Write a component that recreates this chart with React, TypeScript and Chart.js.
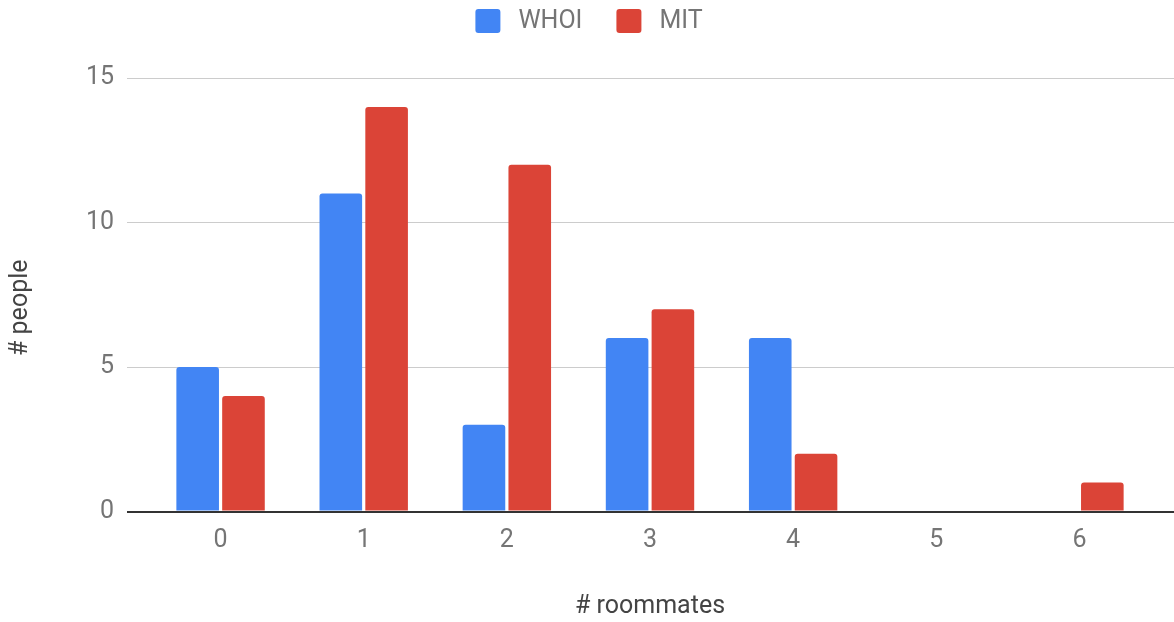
import React, { useEffect, useRef } from 'react';
import { Chart, registerables } from 'chart.js';

Chart.register(...registerables);

const categories = ['0', '1', '2', '3', '4', '5', '6'];
const whoiValues = [5, 11, 3, 6, 6, 0, 0];
const mitValues = [4, 14, 12, 7, 2, 0, 1];
const yTicks = [0, 5, 10, 15];
const seriesLabels = ['WHOI', 'MIT'];
const seriesColors = ['#4285F4', '#DB4437'];
const xTitle = '# roommates';
const yTitle = '# people';

const W = 1174;
const H = 622;

const gridColor = (c: any) => (c.tick && c.tick.value === 0 ? '#333333' : '#cccccc');
const gridWidth = (c: any) => (c.tick && c.tick.value === 0 ? 2 : 1);

const legendPlugin = {
  id: 'topLegend',
  afterDraw(chart: any) {
    const ctx = chart.ctx;
    const items = chart.data.datasets.map((d: any) => ({ label: d.label, color: d.backgroundColor }));
    ctx.save();
    ctx.font = '25px Roboto';
    const box = 25;
    const boxH = 24;
    const gapText = 18;
    const gapItem = 34;
    const widths = items.map((it: any) => box + gapText + ctx.measureText(it.label).width);
    const total = widths.reduce((a: number, b: number) => a + b, 0) + gapItem * (items.length - 1);
    let x = chart.width / 2 - total / 2 + 2;
    const yTop = 9;
    items.forEach((it: any, i: number) => {
      ctx.fillStyle = it.color;
      ctx.beginPath();
      (ctx as any).roundRect(x, yTop, box, boxH, 3);
      ctx.fill();
      ctx.fillStyle = '#757575';
      ctx.textBaseline = 'middle';
      ctx.textAlign = 'left';
      ctx.fillText(it.label, x + box + gapText, yTop + boxH / 2 + 1);
      x += widths[i] + gapItem;
    });
    ctx.restore();
  },
};

const yTitlePlugin = {
  id: 'yTitle',
  afterDraw(chart: any) {
    const ctx = chart.ctx;
    const area = chart.chartArea;
    ctx.save();
    ctx.font = '25px Roboto';
    ctx.fillStyle = '#444444';
    ctx.textAlign = 'center';
    ctx.textBaseline = 'middle';
    ctx.translate(21, (area.top + area.bottom) / 2 + 13);
    ctx.rotate(-Math.PI / 2);
    ctx.fillText(yTitle, 0, 0);
    ctx.restore();
  },
};

export default function App() {
  const ref = useRef<HTMLCanvasElement | null>(null);

  useEffect(() => {
    if (!ref.current) return;
    Chart.defaults.font.family = 'Roboto';
    const setTicks = (s: any) => {
      s.ticks = yTicks.map((v) => ({ value: v }));
    };
    const chart = new Chart(ref.current, {
      type: 'bar',
      data: {
        labels: categories,
        datasets: [
          {
            label: seriesLabels[0],
            data: whoiValues,
            backgroundColor: seriesColors[0],
            borderRadius: 3,
            categoryPercentage: 0.64,
            barPercentage: 0.93,
          },
          {
            label: seriesLabels[1],
            data: mitValues,
            backgroundColor: seriesColors[1],
            borderRadius: 3,
            categoryPercentage: 0.64,
            barPercentage: 0.93,
          },
        ],
      },
      options: {
        animation: false,
        responsive: false,
        layout: { padding: { top: 78, left: 0, right: 0, bottom: 0 } },
        plugins: {
          legend: { display: false },
          tooltip: { enabled: false },
        },
        scales: {
          x: {
            grid: { display: false, drawTicks: false },
            border: { display: false },
            ticks: { color: '#757575', font: { size: 25 }, padding: 14 },
            title: {
              display: true,
              text: xTitle,
              color: '#444444',
              font: { size: 25 },
              padding: { top: 0, bottom: 0 },
            },
            afterFit: (s: any) => {
              s.height = H - 511.5;
            },
          },
          y: {
            position: 'left',
            min: 0,
            max: 15,
            afterBuildTicks: setTicks,
            ticks: { color: '#757575', font: { size: 25 }, padding: 13 },
            grid: { color: gridColor, lineWidth: gridWidth, tickLength: 22, drawTicks: true },
            border: { display: false },
            title: { display: false },
            afterFit: (s: any) => {
              s.width = 149;
            },
          },
          y2: {
            position: 'right',
            min: 0,
            max: 15,
            afterBuildTicks: setTicks,
            ticks: { display: false },
            grid: {
              color: gridColor,
              lineWidth: gridWidth,
              tickLength: 23,
              drawTicks: true,
              drawOnChartArea: false,
            },
            border: { display: false },
          },
        },
      } as any,
      plugins: [legendPlugin, yTitlePlugin],
    });
    return () => chart.destroy();
  }, []);

  return (
    <div style={{ position: 'fixed', left: 0, top: 0, width: W, height: H, background: '#ffffff' }}>
      <canvas ref={ref} width={W} height={H} style={{ display: 'block', width: W, height: H }} />
    </div>
  );
}
